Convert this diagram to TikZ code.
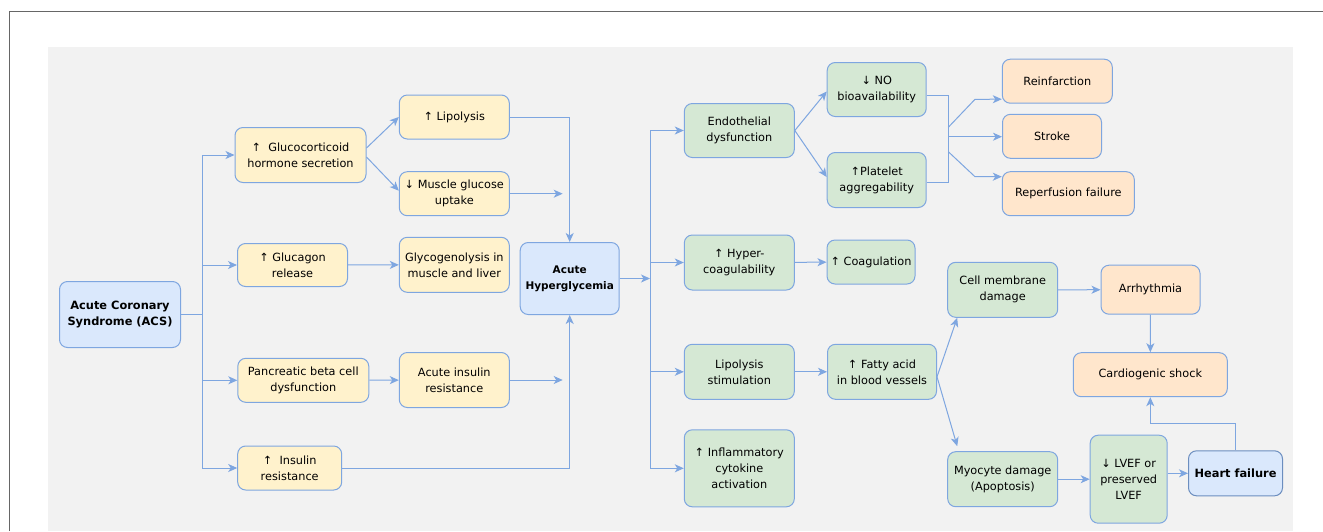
\documentclass[tikz,border=0pt]{standalone}
\usepackage{fontspec}
\setmainfont{DejaVu Sans}
\usetikzlibrary{arrows.meta}
\definecolor{bggray}{HTML}{F2F2F2}
\definecolor{framegray}{HTML}{666666}
\definecolor{edgeblue}{HTML}{7EA6E0}
\definecolor{darkblue}{HTML}{6C8EBF}
\definecolor{yelfill}{HTML}{FFF2CC}
\definecolor{grnfill}{HTML}{D5E8D4}
\definecolor{orgfill}{HTML}{FFE6CC}
\definecolor{blufill}{HTML}{DAE8FC}
\tikzset{
    box/.style={rectangle, rounded corners=8pt, draw=edgeblue, line width=1pt,
        align=center, inner sep=0pt, font=\fontsize{11.3}{16}\selectfont},
    yel/.style={box, fill=yelfill},
    grn/.style={box, fill=grnfill},
    org/.style={box, fill=orgfill},
    blu/.style={box, fill=blufill, font=\fontsize{11.4}{16}\selectfont\bfseries},
    link/.style={draw=edgeblue, line width=1pt},
    arrow/.style={link, -{Stealth[length=9pt,width=8pt,inset=2.5pt]}},
}
\begin{document}
\begin{tikzpicture}[x=1pt,y=-1pt]
        \useasboundingbox (0,0) rectangle (1323,531);
        \fill[bggray] (48,47) rectangle (1293,531);
        \draw[framegray, line width=1pt] (9.5,531) -- (9.5,11) -- (1323,11);

        \begin{scope}
            \node[blu, minimum width=121pt, minimum height=66pt] (acs) at (120,314.5) {Acute Coronary\\Syndrome (ACS)};
            \node[yel, minimum width=131pt, minimum height=55pt] (gluco) at (300.5,155) {↑\ \ Glucocorticoid\\hormone secretion};
            \node[yel, minimum width=110pt, minimum height=43pt] (glucagon) at (292.5,265) {↑ Glucagon\\release};
            \node[yel, minimum width=131pt, minimum height=44pt] (pancreas) at (303.3,380.3) {Pancreatic beta cell\\dysfunction};
            \node[yel, minimum width=104pt, minimum height=44pt] (insres) at (289.7,468) {↑\ \ Insulin\\resistance};
            \node[yel, minimum width=110pt, minimum height=44pt] (lipo) at (454.3,117) {↑ Lipolysis};
            \node[yel, minimum width=110pt, minimum height=44pt] (muscle) at (454.3,193.7) {↓ Muscle glucose\\uptake};
            \node[yel, minimum width=110pt, minimum height=55pt] (glyco) at (454.3,264.8) {Glycogenolysis in\\muscle and liver};
            \node[yel, minimum width=110pt, minimum height=55pt] (acuteins) at (454.3,380) {Acute insulin\\resistance};
            \node[blu, minimum width=99pt, minimum height=72pt, font=\fontsize{10.5}{15.7}\selectfont\bfseries] (hyper) at (569.7,278.5) {Acute\\Hyperglycemia};

            \coordinate (lt) at (202.3,0);
            \coordinate (mend) at (562.7,193.7);
            \coordinate (aend) at (562.7,380);
            \draw[link] (acs) -- (acs -| lt);
            \draw[link] (lt |- gluco) -- (lt |- insres);
            \foreach \n in {gluco,glucagon,pancreas,insres}
                \draw[arrow] (lt |- \n) -- (\n);
            \draw[arrow] ([yshift=7pt]gluco.east) -- (lipo.west);
            \draw[arrow] ([yshift=-2pt]gluco.east) -- ([yshift=3pt]muscle.west);
            \draw[arrow] (glucagon) -- (glyco);
            \draw[arrow] (pancreas) -- (acuteins);
            \draw[arrow] (lipo) -| (hyper);
            \draw[arrow] (muscle) -- (mend);
            \draw[arrow] (acuteins) -- (aend);
            \draw[arrow] (insres) -| (hyper);
        \end{scope}

        \begin{scope}
            \node[grn, minimum width=110pt, minimum height=54pt] (endo) at (739.3,130.5) {Endothelial\\dysfunction};
            \node[grn, minimum width=99pt, minimum height=54pt] (noav) at (876.7,89.5) {↓ NO\\bioavailability};
            \node[grn, minimum width=99pt, minimum height=55pt] (plat) at (876.7,180) {↑Platelet\\aggregability};
            \node[grn, minimum width=110pt, minimum height=55pt] (hcoag) at (739.3,262.5) {↑ Hyper-\\coagulability};
            \node[grn, minimum width=88pt, minimum height=44pt] (coag) at (871,262) {↑ Coagulation};
            \node[grn, minimum width=110pt, minimum height=55pt] (lstim) at (739.3,371.8) {Lipolysis\\stimulation};
            \node[grn, minimum width=109pt, minimum height=55pt] (fatty) at (882,371.8) {↑ Fatty acid\\in blood vessels};
            \node[grn, minimum width=110pt, minimum height=77pt] (infl) at (739.3,468.3) {↑ Inflammatory\\cytokine\\activation};

            \coordinate (rt) at (650,0);
            \draw[arrow] (hyper) -- (hyper -| rt);
            \draw[link] (rt |- endo) -- (rt |- infl);
            \foreach \n in {endo,hcoag,lstim,infl}
                \draw[arrow] (rt |- \n) -- (\n);
            \draw[arrow] (endo.east) -- ([yshift=-2pt]noav.west);
            \draw[arrow] (endo.east) -- ([yshift=3pt]plat.west);
            \draw[arrow] (hcoag) -- (coag);
            \draw[arrow] (lstim) -- (fatty);
        \end{scope}

        \begin{scope}
            \node[org, minimum width=110pt, minimum height=44pt] (reinf) at (1057.3,81.2) {Reinfarction};
            \node[org, minimum width=99pt, minimum height=44pt] (strk) at (1052,136.3) {Stroke};
            \node[org, minimum width=132pt, minimum height=44pt] (reperf) at (1068.3,193.7) {Reperfusion failure};

            \coordinate (bt) at (948.3,95.7);
            \coordinate (bb) at (948.3,182.7);
            \coordinate (b1) at (948.3,127.3);
            \coordinate (b2) at (948.3,136.7);
            \coordinate (b3) at (948.3,151.7);
            \draw[link] (noav.east |- bt) -- (bt) -- (bb) -- (plat.east |- bb);
            \draw[arrow] (b1) -- ++(26.7,-28) -- ([yshift=-18pt]reinf.west);
            \draw[arrow] (b2) -- (b2 -| strk.west);
            \draw[arrow] (b3) -- ++(26.7,25) -- ([yshift=17pt]reperf.west);
        \end{scope}

        \begin{scope}
            \node[grn, minimum width=110pt, minimum height=55pt] (cellm) at (1002.7,289.8) {Cell membrane\\damage};
            \node[org, minimum width=99pt, minimum height=49pt] (arrh) at (1150.5,289.7) {Arrhythmia};
            \node[org, minimum width=154pt, minimum height=44pt] (shock) at (1150.3,374.7) {Cardiogenic shock};
            \node[grn, minimum width=110pt, minimum height=55pt] (myo) at (1002.7,479.2) {Myocyte damage\\(Apoptosis)};
            \node[grn, minimum width=77pt, minimum height=88pt] (lvef) at (1128.7,479.2) {↓ LVEF or\\preserved\\LVEF};
            \node[blu, draw=darkblue, minimum width=94pt, minimum height=45pt] (hf) at (1235.5,473.3) {Heart failure};

            \draw[arrow] ([yshift=-5pt]fatty.east) -- ([xshift=10pt]cellm.south west);
            \draw[arrow] ([yshift=-5pt]fatty.east) -- ([xshift=10pt,yshift=5pt]myo.north west);
            \draw[arrow] (cellm) -- (arrh);
            \draw[arrow] (arrh) -- (shock);
            \draw[arrow] (myo) -- (lvef);
            \draw[arrow] (hf -| lvef.east) -- (hf);
            \draw[arrow] (hf.north) -- ++(0,-27) -| (shock.south);
        \end{scope}
    \end{tikzpicture}
\end{document}
